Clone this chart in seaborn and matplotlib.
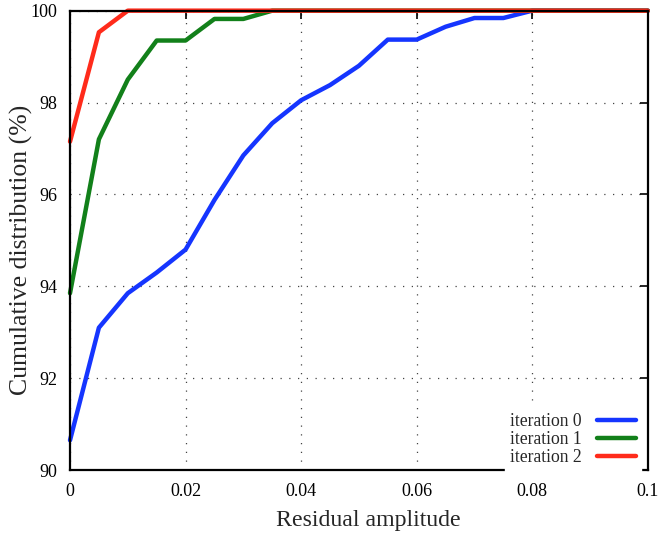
import numpy as np
import pandas as pd
import matplotlib
matplotlib.use("Agg")
import matplotlib.pyplot as plt
import seaborn as sns

# residual amplitude steps
residual = [0.0, 0.005, 0.01, 0.015, 0.02, 0.025, 0.03, 0.035, 0.04, 0.045, 0.05,
            0.055, 0.06, 0.065, 0.07, 0.075, 0.08, 0.085, 0.09, 0.095, 0.1]

iter0 = [90.65, 93.1, 93.85, 94.3, 94.8, 95.88, 96.85, 97.55, 98.05, 98.38, 98.8,
         99.37, 99.37, 99.65, 99.84, 99.84, 100.0, 100.0, 100.0, 100.0, 100.0]
iter1 = [93.85, 97.2, 98.5, 99.35, 99.35, 99.82, 99.82, 100.0, 100.0, 100.0, 100.0,
         100.0, 100.0, 100.0, 100.0, 100.0, 100.0, 100.0, 100.0, 100.0, 100.0]
iter2 = [97.15, 99.53, 100.0, 100.0, 100.0, 100.0, 100.0, 100.0, 100.0, 100.0, 100.0,
         100.0, 100.0, 100.0, 100.0, 100.0, 100.0, 100.0, 100.0, 100.0, 100.0]

labels = ["iteration 0", "iteration 1", "iteration 2"]
xticks = [0, 0.02, 0.04, 0.06, 0.08, 0.1]
xticklabels = ["0", "0.02", "0.04", "0.06", "0.08", "0.1"]
yticks = [90, 92, 94, 96, 98, 100]

df = pd.concat([
    pd.DataFrame({"residual": residual, "cdf": vals, "series": lab})
    for vals, lab in zip([iter0, iter1, iter2], labels)
])

sns.set_theme(style="white")
plt.rcParams['font.family'] = ['Liberation Serif', 'DejaVu Serif']

fig = plt.figure(figsize=(6.63, 5.33), dpi=100)
ax = fig.add_axes([0.1056, 0.118, 0.8715, 0.862])

palette = {"iteration 0": "#1535ff", "iteration 1": "#12801a", "iteration 2": "#ff2b1b"}
sns.lineplot(data=df, x="residual", y="cdf", hue="series", palette=palette,
             linewidth=3.2, ax=ax, clip_on=False)

ax.set_xlim(0, 0.1)
ax.set_ylim(90, 100)
ax.set_xticks(xticks)
ax.set_xticklabels(xticklabels)
ax.set_yticks(yticks)
ax.grid(True, linestyle=(0, (1, 6)), color="#444444", linewidth=0.9)
ax.tick_params(direction="in", length=6, width=1.2, labelsize=13, colors="black",
               top=True, right=True, pad=9)
for s in ax.spines.values():
    s.set_color("black")
    s.set_linewidth(1.6)

ax.set_xlabel("Residual amplitude", fontsize=17.2)
ax.set_ylabel("Cumulative distribution (%)", fontsize=18.5)
ax.xaxis.set_label_coords(0.517, -0.087)
ax.yaxis.set_label_coords(-0.064, 0.479)

leg = ax.legend(loc="lower right", bbox_to_anchor=(0.988, -0.003), markerfirst=False,
                frameon=True, fontsize=12.7, handlelength=2.2, handletextpad=0.85,
                labelspacing=0.05, borderpad=0.3, borderaxespad=0, fancybox=False)
leg.get_frame().set_edgecolor("white")
leg.get_frame().set_alpha(1)

fig.savefig("out.png", dpi=100)
